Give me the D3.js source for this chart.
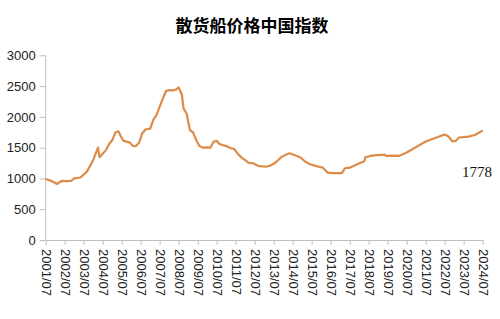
<!DOCTYPE html>
<html lang="zh">
<head>
<meta charset="utf-8">
<style>
body { margin: 0; background: #fff; }
.title { font-family: "Noto Sans CJK SC", sans-serif; font-weight: bold; font-size: 17px; }
.axis text { font-family: "Liberation Sans", Arial, sans-serif; font-size: 13px; fill: #222; }
.axis path, .axis line { stroke: #bfbfbf; }
.last { font-family: "Liberation Serif", "Times New Roman", serif; font-size: 15px; fill: #111; }
</style>
</head>
<body>
<svg width="500" height="319"></svg>
<script src="https://d3js.org/d3.v7.min.js"></script>
<script>

// readings
var dates = ["2001-07","2001-10","2002-01","2002-02","2002-05","2002-08","2002-11","2003-01","2003-05","2003-09",
  "2004-01","2004-04","2004-05","2004-09","2004-11","2005-01","2005-03","2005-05","2005-06","2005-08","2005-12",
  "2006-02","2006-04","2006-06","2006-08","2006-10","2007-01","2007-03","2007-05","2007-07","2007-09","2007-11",
  "2008-01","2008-03","2008-05","2008-07","2008-09","2008-10","2008-12","2009-02","2009-04","2009-06","2009-08",
  "2009-10","2010-01","2010-03","2010-05","2010-07","2010-09","2011-01","2011-04","2011-06","2011-08","2011-11",
  "2012-01","2012-03","2012-06","2012-09","2013-02","2013-05","2013-08","2013-12","2014-03","2014-05","2014-08",
  "2014-12","2015-03","2015-06","2015-10","2016-02","2016-05","2016-08","2017-02","2017-04","2017-07","2017-10",
  "2018-01","2018-04","2018-05","2018-08","2018-12","2019-05","2019-06","2019-10","2020-02","2020-07","2021-07",
  "2022-07","2022-09","2022-12","2023-02","2023-04","2023-10","2024-02","2024-07"];

var values = [990,965,925,910,960,955,960,1000,1015,1110,
  1300,1500,1345,1460,1560,1620,1745,1765,1705,1610,1585,
  1530,1525,1580,1735,1795,1810,1950,2030,2165,2300,2420,
  2435,2430,2440,2480,2355,2140,2050,1785,1750,1625,1530,
  1500,1505,1500,1595,1610,1555,1525,1490,1480,1410,1330,
  1300,1255,1245,1205,1190,1210,1255,1350,1390,1410,1380,
  1340,1270,1230,1200,1175,1095,1085,1085,1165,1175,1210,
  1245,1275,1345,1365,1380,1385,1365,1370,1365,1420,1600,
  1715,1690,1600,1610,1665,1680,1705,1778];

var xTickLabels = ["2001/07","2002/07","2003/07","2004/07","2005/07","2006/07","2007/07","2008/07",
  "2009/07","2010/07","2011/07","2012/07","2013/07","2014/07","2015/07","2016/07","2017/07",
  "2018/07","2019/07","2020/07","2021/07","2022/07","2023/07","2024/07"];

var yTicks = [0, 500, 1000, 1500, 2000, 2500, 3000];

var titleText = "散货船价格中国指数";
var lastLabel = "1778";

var svg = d3.select("svg");
var parse = d3.timeParse("%Y-%m");
var parseTick = d3.timeParse("%Y/%m");

var data = dates.map(function(d, i) { return { date: parse(d), value: values[i] }; });
var tickDates = xTickLabels.map(function(s) { return parseTick(s); });

var x = d3.scaleTime()
    .domain([tickDates[0], tickDates[tickDates.length - 1]])
    .range([45.7, 482.7]);

var y = d3.scaleLinear()
    .domain([0, 3000])
    .range([240, 55.3]);

svg.append("text")
    .attr("class", "title")
    .attr("x", 252)
    .attr("y", 32)
    .attr("text-anchor", "middle")
    .text(titleText);

// y axis
svg.append("g")
    .attr("class", "axis")
    .attr("transform", "translate(45.7,0)")
    .call(d3.axisLeft(y).tickValues(yTicks).tickFormat(d3.format("d"))
      .tickSize(6).tickSizeOuter(0).tickPadding(4))
    .call(function(g) { g.select(".domain").attr("d", "M0," + y(3000) + "V" + y(0)); });

// x axis
var xg = svg.append("g")
    .attr("class", "axis")
    .attr("transform", "translate(0,240)")
    .call(d3.axisBottom(x).tickValues(tickDates).tickSize(5).tickSizeOuter(0)
      .tickFormat(function(d, i) { return xTickLabels[i]; }));

xg.selectAll("text")
    .attr("y", 0)
    .attr("x", 9)
    .attr("dy", ".35em")
    .attr("transform", "rotate(90)")
    .style("text-anchor", "start");

var line = d3.line()
    .x(function(d) { return x(d.date); })
    .y(function(d) { return y(d.value); });

svg.append("path")
    .datum(data)
    .attr("fill", "none")
    .attr("stroke", "#dc8b48")
    .attr("stroke-width", 2.2)
    .attr("stroke-linejoin", "round")
    .attr("d", line);

svg.append("text")
    .attr("class", "last")
    .attr("x", 462)
    .attr("y", 177)
    .text(lastLabel);

</script>
</body>
</html>
